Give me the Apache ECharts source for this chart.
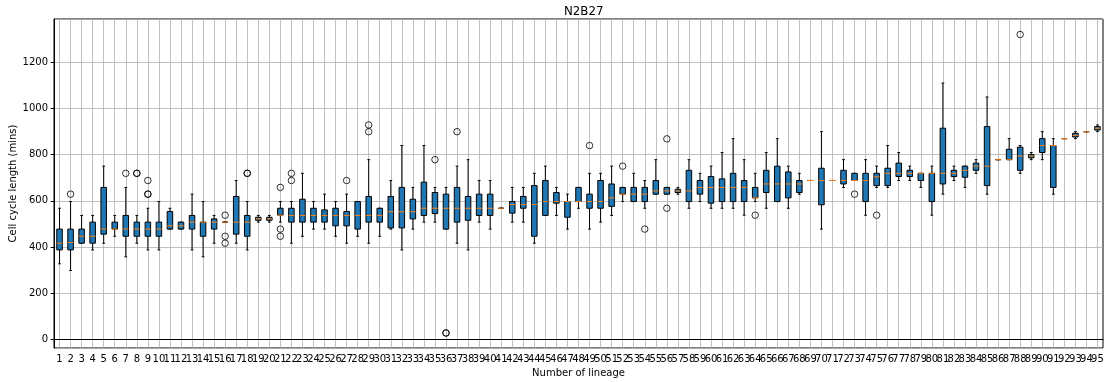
<!DOCTYPE html>
<html><head><meta charset="utf-8">
<script src="https://cdn.jsdelivr.net/npm/echarts@6/dist/echarts.min.js"></script>
<style>html,body{margin:0;padding:0;background:#fff}#c{width:1113px;height:382px}</style>
</head><body><div id="c"></div>
<script>
const categories = ['1','2','3','4','5','6','7','8','9','10','11','12','13','14','15','16','17','18','19','20',
 '21','22','23','24','25','26','27','28','29','30','31','32','33','34','35','36','37','38','39','40',
 '41','42','43','44','45','46','47','48','49','50','51','52','53','54','55','56','57','58','59','60',
 '61','62','63','64','65','66','67','68','69','70','71','72','73','74','75','76','77','78','79','80',
 '81','82','83','84','85','86','87','88','89','90','91','92','93','94','95'];
const lows = [328,299,417,388,417,447,358,417,388,388,478,478,388,358,417,508,417,388,508,508,
 508,417,447,478,478,447,417,447,417,447,478,388,478,508,508,478,417,388,508,478,
 568,508,508,417,537,537,478,568,478,508,537,597,597,568,629,629,629,568,597,568,
 568,568,538,597,568,597,568,629,688,478,688,658,688,538,658,658,688,688,658,538,
 629,688,658,719,629,778,778,719,778,778,629,869,869,899,899];
const q1s = [388,388,417,417,456,478,447,447,447,447,478,478,478,447,478,508,456,447,516,516,
 538,508,508,508,508,492,492,478,508,508,483,483,522,537,545,478,508,516,537,537,
 568,547,568,447,537,590,529,597,568,568,576,629,597,597,629,629,636,597,629,590,
 597,597,597,613,636,597,613,636,688,583,688,673,688,597,666,666,705,705,688,597,
 673,705,702,732,666,778,778,732,786,809,658,869,876,899,906];
const medians = [417,420,447,447,478,478,478,478,478,478,492,492,508,508,508,508,508,508,522,522,
 538,537,537,537,537,537,537,537,537,537,553,553,553,568,568,568,568,568,568,568,
 568,584,584,584,597,597,597,597,597,597,613,629,629,629,643,643,643,643,658,658,
 658,658,658,613,673,673,673,673,688,688,688,688,688,688,704,719,719,719,719,719,
 719,719,732,750,750,778,778,794,794,839,839,869,883,899,914];
const q3s = [478,478,478,508,658,508,537,508,508,508,554,508,537,508,522,508,619,537,529,529,
 568,568,607,568,561,568,554,597,619,568,619,658,607,681,636,629,658,619,629,629,
 568,597,619,666,688,636,597,658,629,688,673,658,658,658,688,658,650,732,688,705,
 695,719,688,658,732,750,725,688,688,741,688,732,719,719,719,741,763,732,719,719,
 914,732,750,763,921,778,823,832,800,869,839,869,892,899,921];
const highs = [568,597,537,537,750,537,658,537,568,597,568,508,629,597,537,508,688,597,537,537,
 597,597,719,597,629,597,629,597,778,568,688,839,658,839,658,658,750,778,688,688,
 568,658,658,719,750,658,629,658,719,719,750,658,719,688,778,658,658,778,719,750,
 809,869,778,719,809,869,750,719,688,899,688,778,719,778,750,839,809,750,719,750,
 1109,750,750,778,1049,778,869,839,809,899,869,869,899,899,928];
const outlierCats = [2,7,8,8,9,9,9,16,16,16,18,18,21,21,21,22,22,27,29,29,35,36,36,37,49,52,54,56,56,64,73,75,88];
const outlierVals = [629,719,719,719,688,629,629,538,447,417,719,719,658,478,447,719,688,688,928,899,778,29,29,899,839,750,478,868,568,538,629,538,1319];

const boxData = categories.map((c, i) => [i, lows[i], q1s[i], medians[i], q3s[i], highs[i]]);
const flierData = outlierCats.map((c, i) => [c - 1, outlierVals[i]]);

function renderBox(params, api) {
  const x = api.value(0);
  const lo = api.coord([x, api.value(1)]);
  const q1 = api.coord([x, api.value(2)]);
  const md = api.coord([x, api.value(3)]);
  const q3 = api.coord([x, api.value(4)]);
  const hi = api.coord([x, api.value(5)]);
  const bw = api.size([1, 0])[0];
  const hw = bw * 0.25, cw = bw * 0.125;
  const cx = lo[0];
  const black = {stroke: '#000', lineWidth: 1};
  return {type: 'group', children: [
    {type: 'line', shape: {x1: cx, y1: lo[1], x2: cx, y2: q1[1]}, style: black},
    {type: 'line', shape: {x1: cx, y1: q3[1], x2: cx, y2: hi[1]}, style: black},
    {type: 'line', shape: {x1: cx - cw, y1: lo[1], x2: cx + cw, y2: lo[1]}, style: black},
    {type: 'line', shape: {x1: cx - cw, y1: hi[1], x2: cx + cw, y2: hi[1]}, style: black},
    {type: 'rect', shape: {x: cx - hw, y: q3[1], width: 2 * hw, height: q1[1] - q3[1]},
     style: {fill: '#1f77b4', stroke: '#000', lineWidth: 1}},
    {type: 'line', shape: {x1: cx - hw, y1: md[1], x2: cx + hw, y2: md[1]},
     style: {stroke: '#ff7f0e', lineWidth: 1}}
  ]};
}

const FONT = 'DejaVu Sans';
const chart = echarts.init(document.getElementById('c'), null, {renderer: 'canvas'});
chart.setOption({
  animation: false,
  backgroundColor: '#fff',
  title: {text: 'N2B27', left: 559, top: 1,
    textStyle: {fontFamily: FONT, fontSize: 11.8, fontWeight: 'normal', color: '#000'}},
  grid: {left: 54, right: 10, top: 19, bottom: 34, containLabel: false, outerBoundsMode: 'none',
    show: true, borderColor: '#000', borderWidth: 1, backgroundColor: 'transparent'},
  xAxis: {
    type: 'category', data: categories, boundaryGap: true,
    name: 'Number of lineage', nameLocation: 'middle', nameGap: 20, nameMoveOverlap: false,
    nameTextStyle: {fontFamily: FONT, fontSize: 10, color: '#000'},
    axisLine: {lineStyle: {color: '#000', width: 1}},
    axisTick: {alignWithLabel: true, interval: 0, length: 3.4, lineStyle: {color: '#000'}},
    axisLabel: {interval: 0, fontFamily: FONT, fontSize: 10, color: '#000', margin: 6, hideOverlap: false},
    splitLine: {show: true, alignWithLabel: true, interval: 0, lineStyle: {color: '#b0b0b0', width: 0.8}}
  },
  yAxis: {
    type: 'value', min: -36, max: 1386, splitNumber: 7,
    name: 'Cell cycle length (mins)', nameLocation: 'middle', nameGap: 36, nameMoveOverlap: false,
    nameTextStyle: {fontFamily: FONT, fontSize: 10, color: '#000'},
    axisLine: {show: true, lineStyle: {color: '#000', width: 1}},
    axisTick: {show: true, length: 3.4, lineStyle: {color: '#000'}},
    axisLabel: {fontFamily: FONT, fontSize: 10, color: '#000', margin: 6, showMinLabel: false, showMaxLabel: false,
      formatter: v => String(v)},
    splitLine: {show: true, lineStyle: {color: '#b0b0b0', width: 0.8}}
  },
  series: [
    {type: 'custom', renderItem: renderBox, data: boxData, encode: {x: 0, y: [1, 2, 3, 4, 5]}, z: 3, clip: true},
    {type: 'scatter', data: flierData, symbol: 'circle', symbolSize: 6.5, z: 4,
     itemStyle: {color: 'rgba(0,0,0,0)', borderColor: '#000', borderWidth: 1}}
  ]
});
</script></body></html>
